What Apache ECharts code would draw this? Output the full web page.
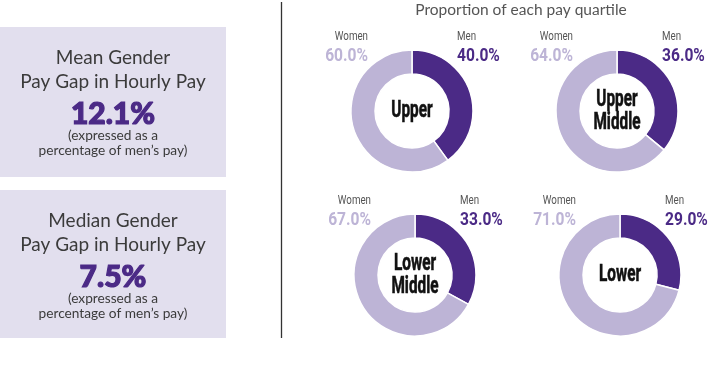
<!DOCTYPE html>
<html>
<head>
<meta charset="utf-8">
<script src="https://cdn.jsdelivr.net/npm/echarts@6/dist/echarts.min.js"></script>
<style>html,body{margin:0;padding:0;background:#fff}#c{width:712px;height:371px}</style>
</head>
<body>
<div id="c"></div>
<script>
// ---- data ----
var quartiles = ['Upper', 'Upper\nMiddle', 'Lower\nMiddle', 'Lower'];
var menPct = [40.0, 36.0, 33.0, 29.0];
var womenPct = [60.0, 64.0, 67.0, 71.0];
var gapTitles = ['Mean Gender\nPay Gap in Hourly Pay', 'Median Gender\nPay Gap in Hourly Pay'];
var gapValues = [12.1, 7.5];
var chartTitle = 'Proportion of each pay quartile';

// ---- layout / style ----
var MEN = '#4b2a86', WOMEN = '#bdb4d6', BOX = '#e2dfee';
var centers = [[412, 111], [617, 111], [415, 275], [620, 275]];
var COND = "Roboto,sans-serif";
var GEO = "Lato,'Open Sans',sans-serif";

var chart = echarts.init(document.getElementById('c'), null, {renderer: 'canvas'});
var series = [];
var graphics = [];

// left boxes
var boxTops = [27, 190];
var boxH = [150, 148];
boxTops.forEach(function (t, i) {
  graphics.push({type: 'rect', shape: {x: 0, y: t, width: 226, height: boxH[i]}, style: {fill: BOX}, z: 0});
  var lines = gapTitles[i].split('\n');
  graphics.push({type: 'text', x: 113, y: t + 31, style: {text: lines[0], font: '19px ' + GEO, fill: '#3b3b3b', textAlign: 'center', textVerticalAlign: 'middle'}});
  graphics.push({type: 'text', x: 113, y: t + 55, style: {text: lines[1], font: '19px ' + GEO, fill: '#3b3b3b', textAlign: 'center', textVerticalAlign: 'middle'}});
  graphics.push({type: 'text', x: 113, y: t + 87, style: {text: gapValues[i].toFixed(1) + '%', font: '900 30px ' + GEO, fill: '#4b2a86', stroke: '#4b2a86', lineWidth: 1.2, textAlign: 'center', textVerticalAlign: 'middle'}});
  graphics.push({type: 'text', x: 113, y: t + 109, style: {text: '(expressed as a', font: '13.7px ' + GEO, fill: '#3b3b3b', textAlign: 'center', textVerticalAlign: 'middle'}});
  graphics.push({type: 'text', x: 113, y: t + 124, style: {text: 'percentage of men\u2019s pay)', font: '13.7px ' + GEO, fill: '#3b3b3b', textAlign: 'center', textVerticalAlign: 'middle'}});
});

// divider
graphics.push({type: 'line', shape: {x1: 281.5, y1: 2, x2: 281.5, y2: 338}, style: {stroke: '#333', lineWidth: 1.3}});

// title
graphics.push({type: 'text', x: 521, y: 10, style: {text: chartTitle, font: '15.5px ' + GEO, fill: '#555', textAlign: 'center', textVerticalAlign: 'middle'}});

quartiles.forEach(function (q, i) {
  var c = centers[i];
  series.push({
    type: 'pie',
    center: c,
    radius: [37, 61],
    startAngle: 90,
    clockwise: true,
    silent: true,
    label: {show: false},
    labelLine: {show: false},
    itemStyle: {borderColor: '#fff', borderWidth: 1.5},
    data: [
      {name: 'Men', value: menPct[i], itemStyle: {color: MEN}},
      {name: 'Women', value: womenPct[i], itemStyle: {color: WOMEN}}
    ]
  });
  graphics.push({type: 'text', x: c[0] - 44, y: c[1] - 74, scaleX: 0.78, style: {text: 'Women', font: '12.5px ' + COND, fill: '#555', textAlign: 'right', textVerticalAlign: 'middle'}, z: 10});
  graphics.push({type: 'text', x: c[0] - 44, y: c[1] - 55, scaleX: 0.82, style: {text: womenPct[i].toFixed(1) + '%', font: 'bold 19px ' + COND, fill: WOMEN, textAlign: 'right', textVerticalAlign: 'middle'}, z: 10});
  graphics.push({type: 'text', x: c[0] + 45, y: c[1] - 74, scaleX: 0.78, style: {text: 'Men', font: '12.5px ' + COND, fill: '#555', textAlign: 'left', textVerticalAlign: 'middle'}, z: 10});
  graphics.push({type: 'text', x: c[0] + 45, y: c[1] - 55, scaleX: 0.82, style: {text: menPct[i].toFixed(1) + '%', font: 'bold 19px ' + COND, fill: MEN, textAlign: 'left', textVerticalAlign: 'middle'}, z: 10});
  graphics.push({type: 'text', x: c[0], y: c[1], scaleX: 0.64, style: {text: q, font: 'bold 24px ' + COND, fill: '#111', stroke: '#111', lineWidth: 0.6, textAlign: 'center', textVerticalAlign: 'middle', lineHeight: 23}, z: 10});
});

chart.setOption({
  animation: false,
  backgroundColor: '#fff',
  series: series,
  graphic: graphics
});
</script>
</body>
</html>
